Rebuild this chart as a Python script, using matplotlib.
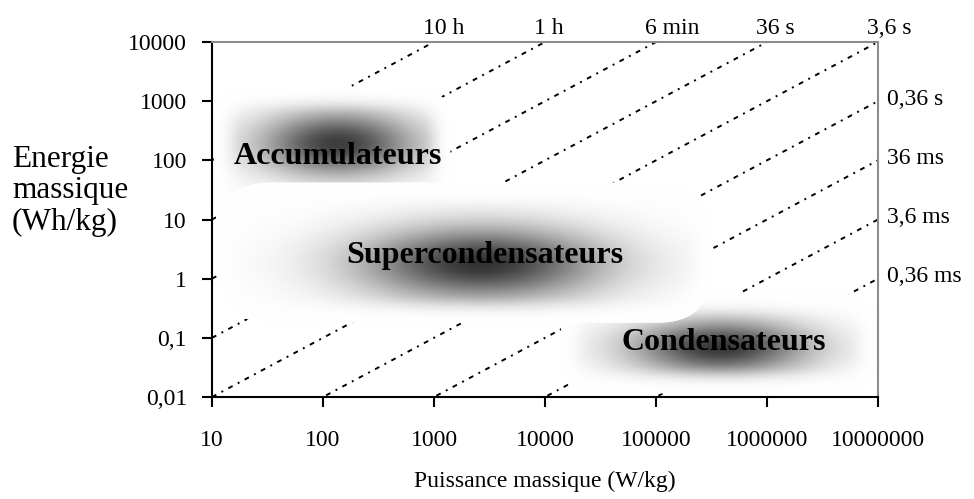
import numpy as np
import matplotlib
matplotlib.use("Agg")
import matplotlib.pyplot as plt
from matplotlib.patches import FancyBboxPatch
from matplotlib.ticker import NullLocator

plt.rcParams['font.family'] = ['Liberation Serif', 'DejaVu Serif']

# ---- data ----
x_ticks = [10, 100, 1000, 10000, 100000, 1000000, 10000000]
x_tick_labels = ["10", "100", "1000", "10000", "100000", "1000000", "10000000"]
y_ticks = [0.01, 0.1, 1, 10, 100, 1000, 10000]
y_tick_labels = ["0,01", "0,1", "1", "10", "100", "1000", "10000"]

# constant-time lines: E (Wh/kg) = P (W/kg) * t (h)
time_hours = [10, 1, 0.1, 0.01, 0.001, 1e-4, 1e-5, 1e-6, 1e-7]
time_labels = ["10 h", "1 h", "6 min", "36 s", "3,6 s", "0,36 s", "36 ms", "3,6 ms", "0,36 ms"]

# technology regions (drawing order)
region_names = ["Accumulateurs", "Condensateurs", "Supercondensateurs"]
region_p_min = [10.4, 14000, 11]
region_p_max = [1400, 9.8e6, 3.2e5]
region_e_min = [5, 0.0115, 0.18]
region_e_max = [1700, 0.57, 42]
core_p = [135, 3.8e5, 2600]
core_e = [190, 0.067, 1.8]
label_p = [136, 4.1e5, 2880]
label_e = [114, 0.085, 2.5]

# ---- figure ----
W, H = 974, 499
fig = plt.figure(figsize=(W / 100, H / 100), dpi=100)
rect = [212 / W, 1 - 397 / H, 666 / W, 355 / H]
ax = fig.add_axes(rect)
ax.set_xscale('log')
ax.set_yscale('log')
ax.set_xlim(10, 1e7)
ax.set_ylim(0.01, 1e4)
ax.set_xticks(x_ticks)
ax.set_xticklabels(x_tick_labels)
ax.set_yticks(y_ticks)
ax.set_yticklabels(y_tick_labels)
ax.xaxis.set_minor_locator(NullLocator())
ax.yaxis.set_minor_locator(NullLocator())
ax.tick_params(axis='both', direction='out', length=7, width=1.5, colors='black', labelsize=17)
ax.tick_params(axis='x', pad=17)
ax.tick_params(axis='y', pad=11)
for s in ax.spines.values():
    s.set_visible(False)
ax.patch.set_facecolor('white')

P = np.logspace(1, 7, 400)
for t, lab in zip(time_hours, time_labels):
    ax.plot(P, P * t, color='black', lw=1.4, linestyle=(0, (2.5, 3, 1, 3)), zorder=1)
    p_top = 1e4 / t
    if p_top <= 1e7 * 1.001:
        ax.annotate(lab, xy=(p_top, 1e4), xytext=(-11, 3), textcoords='offset pixels',
                    ha='left', va='bottom', fontsize=17, annotation_clip=False)
    else:
        ax.annotate(lab, xy=(1e7, 1e7 * t), xytext=(9, 2), textcoords='offset pixels',
                    ha='left', va='center', fontsize=17, annotation_clip=False)

# overlay axes in pixel-like log units for the soft regions
SX = 666 / 6.0
SY = 355 / 6.0
def u(p):
    return np.log10(p) * SX
def v(e):
    return np.log10(e) * SY

ax2 = fig.add_axes(rect, zorder=3)
ax2.set_xlim(1 * SX, 7 * SX)
ax2.set_ylim(-2 * SY, 4 * SY)
ax2.patch.set_alpha(0)
ax2.set_xticks([])
ax2.set_yticks([])
ax2.spines['left'].set_color('black')
ax2.spines['bottom'].set_color('black')
ax2.spines['top'].set_color('#8c8c8c')
ax2.spines['right'].set_color('#8c8c8c')
for s in ax2.spines.values():
    s.set_linewidth(1.5)
    s.set_zorder(10)

spreads = [(78, 32), (88, 27), (120, 36)]
radii = [35, 35, 55]
darkness = [0.76, 0.78, 0.8]
FADE = 28.0
for i, name in enumerate(region_names):
    x0, x1 = u(region_p_min[i]), u(region_p_max[i])
    y0, y1 = v(region_e_min[i]), v(region_e_max[i])
    r = radii[i]
    patch = FancyBboxPatch((x0, y0), x1 - x0, y1 - y0,
                           boxstyle=f"round,pad=0,rounding_size={r}",
                           facecolor='white', edgecolor='none', zorder=2 + i)
    ax2.add_patch(patch)
    gx = np.linspace(x0, x1, 500)
    gy = np.linspace(y0, y1, 300)
    GX, GY = np.meshgrid(gx, gy)
    sx, sy = spreads[i]
    g = np.exp(-(((GX - u(core_p[i])) / sx) ** 2 + ((GY - v(core_e[i])) / sy) ** 2))
    # signed distance to rounded rectangle, used to fade to white at edges
    cx, cy = (x0 + x1) / 2, (y0 + y1) / 2
    hx, hy = (x1 - x0) / 2, (y1 - y0) / 2
    qx = np.abs(GX - cx) - (hx - r)
    qy = np.abs(GY - cy) - (hy - r)
    d = np.hypot(np.maximum(qx, 0), np.maximum(qy, 0)) + np.minimum(np.maximum(qx, qy), 0) - r
    f = np.clip(-d / FADE, 0, 1)
    f = f * f * (3 - 2 * f)
    gray = 1 - darkness[i] * g * f
    img = np.dstack([gray, gray, gray])
    im = ax2.imshow(img, extent=(x0, x1, y0, y1), origin='lower', aspect='auto',
                    interpolation='bilinear', zorder=2 + i)
    im.set_clip_path(patch)
    ax2.text(u(label_p[i]), v(label_e[i]), name, ha='center', va='center',
             fontsize=23, fontweight='bold', zorder=8)
ax2.set_xlim(1 * SX, 7 * SX)
ax2.set_ylim(-2 * SY, 4 * SY)

fig.text(12 / W, 1 - 191 / H, "Energie\nmassique\n(Wh/kg)", ha='left', va='center',
         fontsize=22.5, linespacing=1.1)
fig.text(545 / W, 1 - 481 / H, "Puissance massique (W/kg)", ha='center', va='center',
         fontsize=17)

fig.savefig("out.png", dpi=100)
